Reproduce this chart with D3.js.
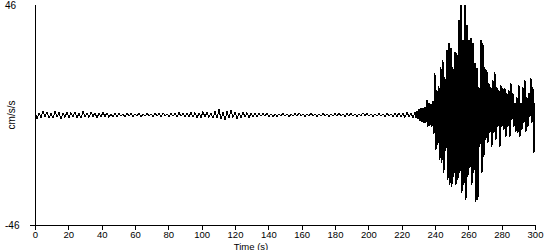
<!DOCTYPE html>
<html>
<head>
<meta charset="utf-8">
<script src="https://cdn.jsdelivr.net/npm/d3@7"></script>
<style>
  body { margin: 0; background: #fff; }
  svg text { font-family: "Liberation Sans", Arial, sans-serif; font-size: 10px; fill: #000; }
</style>
</head>
<body>
<svg id="chart"></svg>
<script>
// time ticks (s) and y limits (cm/s/s)
var timeTicks = [0, 20, 40, 60, 80, 100, 120, 140, 160, 180, 200, 220, 240, 260, 280, 300];
var yLimits = [-46, 46];

// quiet part of the record, one reading every 1.2 s from t = 0
var quietStep = 1.2;
var quietAccel = [
  1.2,-1.5,0.9,-1.1,1.7,-0.8,1.3,-1.4,0.7,-1.2,
  1.5,-0.9,1.1,-1.6,0.8,-1.0,1.4,-1.2,1.0,-0.7,
  1.3,-1.1,0.6,-1.3,1.6,-0.9,0.8,-1.0,1.2,-0.6,
  0.9,-1.2,0.7,-0.8,1.1,-0.6,0.9,-1.0,0.5,-0.8,
  0.6,-0.7,0.8,-0.5,0.4,-0.8,0.7,-0.4,0.6,-0.7,
  0.5,-0.4,0.7,-0.6,0.3,-0.5,0.6,-0.3,0.5,-0.6,
  0.8,-0.4,0.6,-0.7,0.9,-0.3,0.5,-0.6,0.7,-0.5,
  0.6,-0.8,1.0,-0.5,0.7,-0.9,0.6,-0.7,1.1,-0.8,
  1.0,-1.3,0.8,-1.1,1.4,-0.9,1.2,-1.0,0.9,-1.4,
  1.6,-1.2,2.3,-1.8,1.1,-2.1,1.5,-1.3,1.9,-1.0,
  1.2,-1.5,0.9,-1.1,1.3,-0.8,1.0,-1.2,0.7,-0.9,
  0.6,-0.7,0.8,-0.5,0.6,-0.4,0.7,-0.6,0.5,-0.7,
  0.4,-0.6,0.5,-0.3,0.7,-0.5,0.4,-0.6,0.3,-0.5,
  0.6,-0.4,0.9,-0.3,0.5,-0.6,0.4,-0.5,0.8,-0.4,
  0.5,-0.6,0.4,-0.5,0.7,-0.3,0.5,-0.6,0.4,-0.5,
  0.6,-0.5,0.8,-0.4,0.5,-0.7,0.6,-0.4,0.7,-0.5,
  0.4,-0.6,0.5,-0.4,0.9,-0.3,0.6,-0.5,0.4,-0.6,
  0.5,-0.4,0.6,-0.5,0.4,-0.6,0.7,-0.4,0.5,-0.6,
  0.7,-0.6,0.9,-0.8,0.6,-1.0,1.1,-0.7,0.9,-1.2
];

// strong shaking, one reading every 0.6 s from t = 228
var burstStart = 228;
var burstStep = 0.6;
var burstAccel = [
  1.3,-1.3, 1.7,-1.7, 2.5,-2.5, 2.9,-2.9, 2.9,-3.3, 3.3,-3.3, 6.3,-5.0, 5.0,-4.6,
  4.6,-5.0, 6.0,-8.0, 17.6,-14.6, 10.5,-12.5, 12.0,-18.8, 20.1,-20.1, 23.0,-24.2, 15.9,-15.0,
  27.2,-27.2, 30.1,-29.3, 28.0,-30.1, 20.1,-25.9, 26.3,-29.3, 25.9,-27.2, 39.7,-24.2, 46.0,-32.6,
  31.4,-29.3, 46.0,-35.5, 37.6,-25.9, 31.4,-22.2, 32.2,-29.3, 30.1,-24.2, 21.7,-36.4, 19.6,-35.5,
  11.7,-13.4, 31.4,-24.2, 30.1,-17.6, 20.1,-10.5, 18.8,-11.7, 13.4,-7.5, 11.7,-13.4, 14.6,-7.5,
  18.0,-10.5, 11.7,-5.0, 10.5,-13.4, 12.5,-5.0, 11.3,-6.3, 11.3,-9.2, 9.2,-5.0, 10.5,-9.2,
  13.4,-2.1, 9.2,-5.0, 5.0,-7.1, 7.5,-7.5, 12.5,-9.2, 5.0,-6.3, 11.7,-3.3, 14.6,-7.1,
  7.5,-5.0, 9.2,-0.8, 15.5,-3.3, 11.7,-15.9, 5.0
];

var record = quietAccel.map(function(v, i) { return {t: i * quietStep, a: v}; })
  .concat(burstAccel.map(function(v, i) { return {t: burstStart + i * burstStep, a: v}; }));

var width = 550, height = 250;
var margin = {top: 5, right: 15, bottom: 25, left: 35};

var svg = d3.select("#chart")
  .attr("width", width)
  .attr("height", height);

var x = d3.scaleLinear().domain([0, 300]).range([margin.left, width - margin.right]);
var y = d3.scaleLinear().domain(yLimits).range([height - margin.bottom, margin.top]);

// x axis, ticks hanging below
var xAxis = d3.axisBottom(x).tickValues(timeTicks).tickSize(5).tickSizeOuter(0).tickPadding(1);
var gx = svg.append("g")
  .attr("transform", "translate(0," + y(yLimits[0]) + ")")
  .call(xAxis);
gx.select(".domain").remove();
gx.selectAll("line").attr("stroke", "#000").attr("shape-rendering", "crispEdges");
gx.selectAll("text").style("font-size", "9.5px").style("font-family", "Liberation Sans, Arial, sans-serif");

gx.append("line")
  .attr("x1", x(0) - 5).attr("x2", x(300))
  .attr("y1", 0).attr("y2", 0)
  .attr("stroke", "#000")
  .attr("shape-rendering", "crispEdges");

// y axis, just a line with the limits written at its ends
svg.append("line")
  .attr("x1", x(0)).attr("x2", x(0))
  .attr("y1", y(yLimits[1])).attr("y2", y(yLimits[0]) + 5)
  .attr("stroke", "#000")
  .attr("shape-rendering", "crispEdges");

svg.selectAll(".ylim")
  .data(yLimits)
  .enter().append("text")
  .attr("class", "ylim")
  .attr("x", 5)
  .attr("y", function(d) { return y(d); })
  .attr("dy", "0.35em")
  .text(function(d) { return d; });

svg.append("text")
  .attr("x", 251)
  .attr("y", 249.5)
  .attr("text-anchor", "middle")
  .style("font-size", "9.5px")
  .text("Time (s)");

svg.append("text")
  .attr("transform", "translate(15," + y(0) + ") rotate(-90)")
  .attr("text-anchor", "middle")
  .text("cm/s/s");

var line = d3.line()
  .x(function(d) { return x(d.t); })
  .y(function(d) { return y(d.a); });

svg.append("path")
  .datum(record)
  .attr("d", line)
  .attr("fill", "none")
  .attr("stroke", "#000")
  .attr("stroke-width", 1)
  .attr("shape-rendering", "crispEdges");
</script>
</body>
</html>
